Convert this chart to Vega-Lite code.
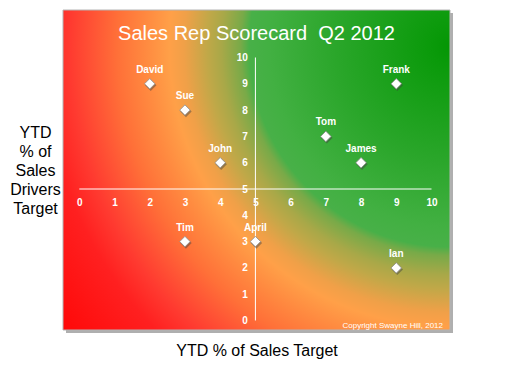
{
  "$schema": "https://vega.github.io/schema/vega-lite/v6.json",
  "width": 387,
  "height": 320,
  "autosize": {"type": "none"},
  "padding": {"left": 63, "top": 10, "right": 69, "bottom": 36},
  "background": "white",
  "config": {
    "view": {"stroke": null},
    "font": "Liberation Sans",
    "axis": {"labelOverlap": false, "labelFlush": false, "labelBound": false, "tickCount": 11}
  },
  "title": {
    "text": "Sales Rep Scorecard \u00a0Q2 2012",
    "offset": -23,
    "dy": 21,
    "baseline": "middle",
    "color": "white",
    "fontSize": 20,
    "fontWeight": "normal",
    "font": "Liberation Sans",
    "anchor": "middle",
    "zindex": 1
  },
  "datasets": {
    "reps": [
      {"name": "David", "sales": 2, "drivers": 9},
      {"name": "Sue", "sales": 3, "drivers": 8},
      {"name": "John", "sales": 4, "drivers": 6},
      {"name": "Tom", "sales": 7, "drivers": 7},
      {"name": "James", "sales": 8, "drivers": 6},
      {"name": "Frank", "sales": 9, "drivers": 9},
      {"name": "Tim", "sales": 3, "drivers": 3},
      {"name": "April", "sales": 5, "drivers": 3},
      {"name": "Ian", "sales": 9, "drivers": 2}
    ],
    "one": [{}]
  },
  "layer": [
    {
      "data": {"name": "one"},
      "mark": {"type": "rect", "color": "#6e6e6e", "opacity": 0.55, "xOffset": 3, "x2Offset": 3, "yOffset": 3, "y2Offset": 3},
      "encoding": {
        "x": {"datum": -0.463, "type": "quantitative"},
        "x2": {"datum": 10.525},
        "y": {"datum": -0.361, "type": "quantitative"},
        "y2": {"datum": 11.806}
      }
    },
    {
      "data": {"name": "one"},
      "mark": {
        "type": "rect",
        "stroke": "#b4b4b4",
        "strokeWidth": 1,
        "fill": {
          "gradient": "radial",
          "x1": 1, "y1": 0.18, "r1": 0,
          "x2": 1, "y2": 0.18, "r2": 1.297,
          "stops": [
            {"offset": 0, "color": "#049604"},
            {"offset": 0.038, "color": "#0a9a0a"},
            {"offset": 0.227, "color": "#2aa62a"},
            {"offset": 0.36, "color": "#42b042"},
            {"offset": 0.4, "color": "#48b048"},
            {"offset": 0.417, "color": "#78aa48"},
            {"offset": 0.455, "color": "#a8a848"},
            {"offset": 0.483, "color": "#c0a848"},
            {"offset": 0.53, "color": "#f0a048"},
            {"offset": 0.559, "color": "#ffa048"},
            {"offset": 0.606, "color": "#ff8a40"},
            {"offset": 0.663, "color": "#ff7038"},
            {"offset": 0.71, "color": "#ff5535"},
            {"offset": 0.758, "color": "#ff3a30"},
            {"offset": 0.814, "color": "#ff2020"},
            {"offset": 0.947, "color": "#ff0a0a"},
            {"offset": 1, "color": "#ff0000"}
          ]
        }
      },
      "encoding": {
        "x": {"datum": -0.463, "type": "quantitative"},
        "x2": {"datum": 10.525},
        "y": {"datum": -0.361, "type": "quantitative"},
        "y2": {"datum": 11.806}
      }
    },
    {
      "data": {"name": "one"},
      "mark": {"type": "rule", "color": "white", "strokeWidth": 1},
      "encoding": {
        "x": {"datum": 0, "type": "quantitative"},
        "x2": {"datum": 10},
        "y": {"datum": 5, "type": "quantitative"}
      }
    },
    {
      "data": {"name": "one"},
      "mark": {"type": "rule", "color": "white", "strokeWidth": 1},
      "encoding": {
        "x": {"datum": 5, "type": "quantitative"},
        "y": {"datum": 0, "type": "quantitative"},
        "y2": {"datum": 10}
      }
    },
    {
      "data": {"name": "reps"},
      "mark": {"type": "point", "shape": "diamond", "filled": true, "color": "#404040", "opacity": 0.45, "size": 130, "xOffset": 1, "yOffset": 1.5},
      "encoding": {
        "x": {"field": "sales", "type": "quantitative"},
        "y": {"field": "drivers", "type": "quantitative"}
      }
    },
    {
      "data": {"name": "reps"},
      "mark": {"type": "point", "shape": "diamond", "filled": true, "fill": "white", "opacity": 1, "size": 110, "stroke": "#8a8a8a", "strokeWidth": 0.8},
      "encoding": {
        "x": {
          "field": "sales",
          "type": "quantitative",
          "scale": {"domain": [-0.463, 10.525], "nice": false, "zero": false},
          "axis": {
            "values": [0, 1, 2, 3, 4, 5, 6, 7, 8, 9, 10],
            "orient": "bottom",
            "offset": -141,
            "domain": false,
            "ticks": false,
            "tickSize": 0,
            "grid": false,
            "labelColor": "white",
            "labelFontWeight": "bold",
            "labelFontSize": 10,
            "labelFont": "Liberation Sans",
            "labelPadding": 8,
            "labelFlush": false,
            "labelOverlap": false,
            "format": "d",
            "title": "YTD % of Sales Target",
            "titleY": 161,
            "titleBaseline": "middle",
            "titleFontSize": 16,
            "titleFontWeight": "normal",
            "titleFont": "Liberation Sans",
            "titleColor": "black",
            "zindex": 1
          }
        },
        "y": {
          "field": "drivers",
          "type": "quantitative",
          "scale": {"domain": [-0.361, 11.806], "nice": false, "zero": false},
          "axis": {
            "values": [0, 1, 2, 3, 4, 5, 6, 7, 8, 9, 10],
            "orient": "left",
            "offset": -192.4,
            "domain": false,
            "ticks": false,
            "tickSize": 0,
            "grid": false,
            "labelColor": "white",
            "labelFontWeight": "bold",
            "labelFontSize": 10,
            "labelFont": "Liberation Sans",
            "labelPadding": 8,
            "labelFlush": false,
            "labelOverlap": false,
            "format": "d",
            "title": ["YTD", "% of", "Sales", "Drivers", "Target"],
            "titleAngle": 0,
            "titleX": -220.4,
            "titleY": 122,
            "titleAlign": "center",
            "titleBaseline": "middle",
            "titleLineHeight": 19,
            "titleFontSize": 16,
            "titleFontWeight": "normal",
            "titleFont": "Liberation Sans",
            "titleColor": "black",
            "zindex": 1
          }
        }
      }
    },
    {
      "data": {"name": "reps"},
      "mark": {"type": "text", "dy": -14, "fontWeight": "bold", "fontSize": 10, "color": "white", "font": "Liberation Sans"},
      "encoding": {
        "x": {"field": "sales", "type": "quantitative"},
        "y": {"field": "drivers", "type": "quantitative"},
        "text": {"field": "name"}
      }
    },
    {
      "data": {"name": "one"},
      "mark": {"type": "text", "align": "right", "baseline": "middle", "fontSize": 8, "color": "white", "font": "Liberation Sans"},
      "encoding": {
        "x": {"datum": 10.326, "type": "quantitative"},
        "y": {"datum": -0.19, "type": "quantitative"},
        "text": {"value": "Copyright Swayne Hill, 2012"}
      }
    }
  ]
}
